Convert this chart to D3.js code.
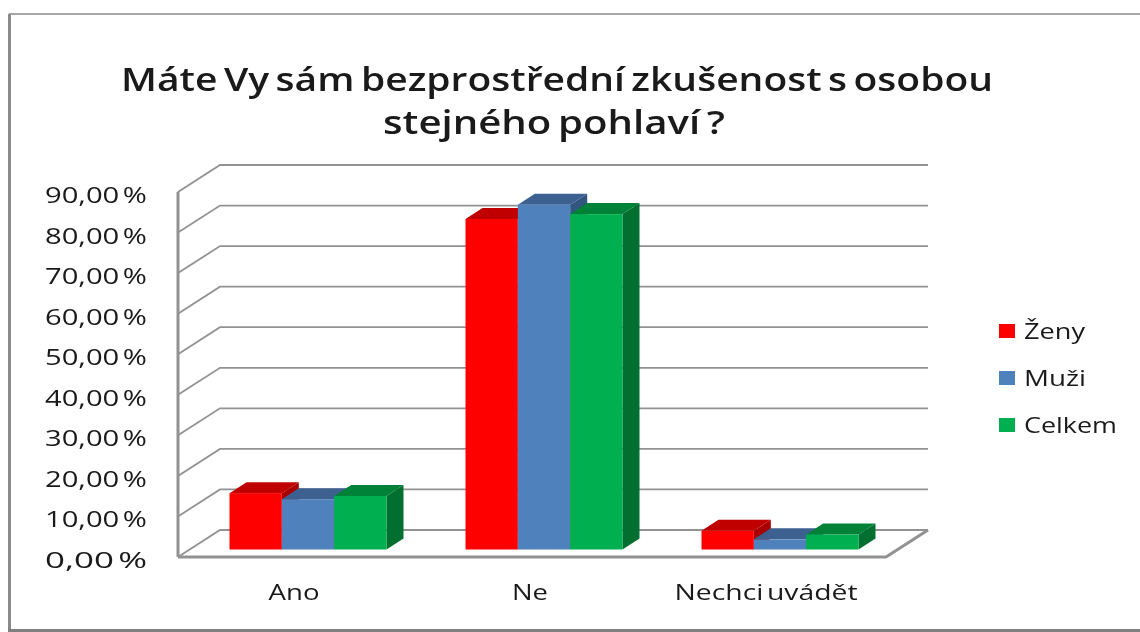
<!DOCTYPE html>
<html><head><meta charset="utf-8">
<style>html,body{margin:0;padding:0;background:#fff}svg{display:block}text{font-family:"Open Sans",sans-serif;fill:#1a1a1a}#c{filter:blur(0.45px)}</style>
<script src="https://cdn.jsdelivr.net/npm/d3@7"></script></head><body>
<svg id="c" width="1140" height="632"></svg>
<script>
const categories=["Ano","Ne","Nechci uvádět"];
const seriesNames=["Ženy","Muži","Celkem"];
const zeny=[13.9,81.5,4.6];
const muzi=[12.4,85,2.5];
const celkem=[13.2,82.7,3.7];
const yTicks=[0,10,20,30,40,50,60,70,80,90];
const faceColors=["#ff0000","#4f81bd","#00b050"];
const topColors=["#c00000","#3c6190","#008138"];
const sideColors=["#a80000","#335680","#006f30"];
const seriesValues=[zeny,muzi,celkem];

const svg=d3.select("#c");
const W=708,X0=178,Y0=557,H=365,DX=42,DY=-27;
const x=d3.scaleBand().domain(categories).range([X0,X0+W]);
const y=d3.scaleLinear().domain([0,90]).range([Y0,Y0-H]);
const grey="#929292";

// frame
svg.append("path").attr("d","M1140,14L9,14").attr("stroke","#8a8a8a").attr("stroke-width",1.5);
svg.append("path").attr("d","M9.5,14L9.5,630").attr("stroke","#8a8a8a").attr("stroke-width",3);
svg.append("path").attr("d","M8,630.5L1140,630.5").attr("stroke","#808080").attr("stroke-width",3);

// walls
yTicks.forEach(t=>{
  const yy=y(t);
  svg.append("path").attr("d",`M${X0},${yy}L${X0+DX},${yy+DY}L${X0+W+DX},${yy+DY}`)
    .attr("fill","none").attr("stroke",grey).attr("stroke-width",1.8);
});
svg.append("path").attr("d",`M${X0},${y(0)}L${X0+W},${y(0)}L${X0+W+DX},${y(0)+DY}`).attr("fill","none").attr("stroke",grey).attr("stroke-width",3);
svg.append("path").attr("d",`M${X0},${y(90)}L${X0},${y(0)}`).attr("stroke",grey).attr("stroke-width",3);

// bars
const fx=12,fy=-7.5,bdx=17,bdy=-11;
const inner=d3.scaleBand().domain(d3.range(3)).range([0,157]);
const gOff=(x.bandwidth()-157)/2;
categories.forEach((c,i)=>{
  [0,1,2].forEach(s=>{
    const v=seriesValues[s][i];
    const l=x(c)+fx+gOff+inner(s),w=inner.bandwidth(),r=l+w,b=y(0)+fy,t=y(v)+fy;
    svg.append("path").attr("d",`M${r},${b}L${r+bdx},${b+bdy}L${r+bdx},${t+bdy}L${r},${t}Z`).attr("fill",sideColors[s]);
    svg.append("path").attr("d",`M${l},${t}L${l+bdx},${t+bdy}L${r+bdx},${t+bdy}L${r},${t}Z`).attr("fill",topColors[s]);
    svg.append("rect").attr("x",l).attr("y",t).attr("width",w).attr("height",b-t).attr("fill",faceColors[s]);
  });
});

// y labels
const fmt=d=>d3.format(".2f")(d).replace(".",",")+" %";
yTicks.forEach(t=>{
  svg.append("text").attr("x",147).attr("y",y(t)+11).attr("text-anchor","end").attr("font-size",22).attr("word-spacing",-3)
   .attr("textLength",102).attr("lengthAdjust","spacingAndGlyphs").text(fmt(t));
});
// x labels
const xLens=[51,36,183];
categories.forEach((c,i)=>{
  svg.append("text").attr("x",x(c)+x.bandwidth()/2-2).attr("y",600).attr("text-anchor","middle").attr("font-size",22).attr("word-spacing",-3)
   .attr("textLength",xLens[i]).attr("lengthAdjust","spacingAndGlyphs").text(c);
});
// title
svg.append("text").attr("x",557).attr("y",91).attr("text-anchor","middle").attr("font-size",32).attr("font-weight",600).attr("word-spacing",-3)
  .attr("textLength",872).attr("lengthAdjust","spacingAndGlyphs").text("Máte Vy sám bezprostřední zkušenost s osobou");
svg.append("text").attr("x",554).attr("y",134).attr("text-anchor","middle").attr("font-size",32).attr("font-weight",600).attr("word-spacing",-3)
  .attr("textLength",342).attr("lengthAdjust","spacingAndGlyphs").text("stejného pohlaví ?");
// legend
const legY=[331,378,425],legLens=[61,62,93];
seriesNames.forEach((n,i)=>{
  svg.append("rect").attr("x",999).attr("y",legY[i]-7).attr("width",16).attr("height",14).attr("fill",faceColors[i]);
  svg.append("text").attr("x",1024).attr("y",legY[i]+8).attr("font-size",22)
   .attr("textLength",legLens[i]).attr("lengthAdjust","spacingAndGlyphs").text(n);
});
</script></body></html>
